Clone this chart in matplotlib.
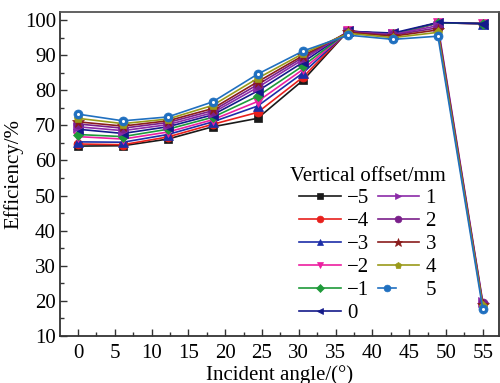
import numpy as np
import matplotlib.pyplot as plt
from matplotlib.ticker import MultipleLocator
from matplotlib.legend_handler import HandlerTuple

plt.rcParams['font.family'] = ['Liberation Serif', 'DejaVu Serif']
plt.rcParams['mathtext.fontset'] = 'stix'

# incident angle (deg)
angle = [0, 6.1, 12.2, 18.3, 24.4, 30.6, 36.7, 42.8, 48.9, 55]

offsets = ['\u22125', '\u22124', '\u22123', '\u22122', '\u22121', '0', '1', '2', '3', '4', '5']

# efficiency (%) per vertical offset
eff_m5 = [64.1, 64.2, 66.1, 69.6, 72.0, 82.9, 96.9, 95.8, 99.2, 99.0]
eff_m4 = [64.7, 64.5, 66.7, 70.3, 73.7, 83.8, 96.9, 95.9, 99.2, 99.0]
eff_m3 = [65.3, 65.2, 67.4, 71.0, 75.5, 85.0, 96.8, 96.0, 99.2, 99.0]
eff_m2 = [66.8, 66.1, 68.1, 71.6, 76.8, 86.0, 96.8, 96.0, 99.2, 99.0]
eff_m1 = [67.4, 66.8, 68.9, 72.3, 78.3, 87.0, 96.7, 96.0, 99.2, 99.0]
eff_0 = [68.9, 67.7, 69.6, 73.0, 79.8, 88.0, 96.8, 96.3, 99.3, 99.0]
eff_p1 = [69.6, 68.5, 70.2, 73.6, 80.8, 88.8, 96.7, 95.9, 98.4, 19.6]
eff_p2 = [70.4, 69.2, 70.8, 74.2, 81.6, 89.4, 96.6, 95.7, 97.8, 19.3]
eff_p3 = [71.0, 69.8, 71.3, 74.8, 82.4, 89.9, 96.5, 95.4, 97.2, 18.9]
eff_p4 = [72.0, 70.5, 71.8, 75.7, 83.4, 90.5, 96.2, 95.0, 96.5, 18.5]
eff_p5 = [73.2, 71.3, 72.4, 76.7, 84.6, 91.2, 95.7, 94.5, 95.4, 17.6]

series = [eff_m5, eff_m4, eff_m3, eff_m2, eff_m1, eff_0,
          eff_p1, eff_p2, eff_p3, eff_p4, eff_p5]
colors = ['#1a1a1a', '#e8201c', '#1c2ea8', '#ec1fa0', '#1f9a3a', '#141a8a',
          '#8b2aa8', '#7a1f8a', '#8a1c1c', '#9a9a1a', '#2070c0']
markers = ['s', 'o', '^', 'v', 'D', '<', '>', 'o', '*', 'p', 'o']
sizes = [5.5, 6.5, 6.5, 6.5, 5.5, 6.5, 6.5, 6.5, 8.5, 6.5, 6.5]

fig = plt.figure(figsize=(5, 3.83), dpi=100)
ax = fig.add_axes([0.12, 0.1227, 0.878, 0.846])

handles = []
for y, c, m, s, lab in zip(series, colors, markers, sizes, offsets):
    ln, = ax.plot(angle, y, color=c, marker=m, markersize=s, lw=1.2,
                  markeredgewidth=0.5, markeredgecolor=c)
    if lab == '5':
        dot, = ax.plot(angle, y, ls='none', marker='o', markersize=2.2,
                       color='white', markeredgewidth=0)
        handles.append((ln, dot))
    else:
        handles.append(ln)

ax.set_xlim(-2.45, 57.2)
ax.set_ylim(10, 102.3)
ax.xaxis.set_major_locator(MultipleLocator(5))
ax.xaxis.set_minor_locator(MultipleLocator(2.5))
ax.yaxis.set_major_locator(MultipleLocator(10))
ax.yaxis.set_minor_locator(MultipleLocator(5))
ax.tick_params(which='both', direction='in', labelsize=15, color='#333333',
               top=False, right=False)
ax.tick_params(axis='x', pad=6)
ax.tick_params(axis='y', pad=3)
ax.tick_params(which='major', length=5, width=1)
ax.tick_params(which='minor', length=3, width=1)
for sp in ax.spines.values():
    sp.set_color('#333333')
    sp.set_linewidth(1.3)
ax.spines['top'].set_color('#555555')

ax.set_xlabel('Incident angle/(\u00b0)', fontsize=15, labelpad=1)
ax.set_ylabel('Efficiency/%', fontsize=15, labelpad=1)

leg = ax.legend(handles, offsets, ncol=2, loc='lower left',
                bbox_to_anchor=(0.49, -0.005), frameon=False,
                title='Vertical offset/mm', title_fontsize=15, fontsize=15,
                handlelength=2.0, handletextpad=0.3, columnspacing=0.4,
                labelspacing=0.16, borderpad=0.2, markerscale=0.75,
                handler_map={tuple: HandlerTuple(ndivide=None)})

fig.savefig('out.png', dpi=100)
